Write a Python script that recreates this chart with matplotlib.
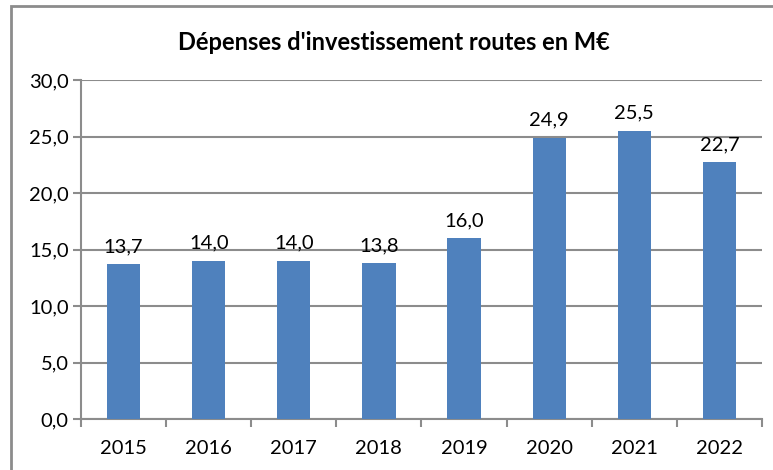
import matplotlib.pyplot as plt
import numpy as np
from matplotlib.patches import Rectangle

# Données
annees = ["2015", "2016", "2017", "2018", "2019", "2020", "2021", "2022"]
depenses = [13.7, 14.0, 14.0, 13.8, 16.0, 24.9, 25.5, 22.7]
yticks = [0, 5, 10, 15, 20, 25, 30]

plt.rcParams['font.family'] = ['Lato', 'DejaVu Sans']
gris = "#8c8c8c"
bleu = "#4f81bd"

fig = plt.figure(figsize=(7.73, 4.70), dpi=100)
ax = fig.add_axes([81 / 773, 51 / 470, 681 / 773, 339 / 470])

# Cadre du graphique
fig.patches.append(Rectangle((11 / 773, -0.05), 1.1, 0.05 + 464 / 470,
                             transform=fig.transFigure, fill=False,
                             edgecolor=gris, linewidth=2))

x = np.arange(len(annees))
ax.bar(x, depenses, width=0.39, color=bleu, zorder=3)

for xi, v in zip(x, depenses):
    ax.text(xi, v + 0.8, f"{v:.1f}".replace(".", ","), ha="center", va="bottom",
            fontsize=14.5)

ax.set_xlim(-0.5, len(annees) - 0.5)
ax.set_ylim(0, 30)
ax.set_yticks(yticks)
ax.set_yticklabels([f"{t:.1f}".replace(".", ",") for t in yticks], fontsize=14.5)
ax.set_xticks(x)
ax.set_xticklabels(annees, fontsize=14.5)
ax.set_xticks(np.arange(-0.5, len(annees)), minor=True)
ax.tick_params(axis="x", which="major", length=0, pad=15)
ax.tick_params(axis="x", which="minor", length=6, width=1.5, color=gris)
ax.tick_params(axis="y", length=6, width=1.5, color=gris, pad=3)

ax.yaxis.grid(True, color=gris, linewidth=1.5, zorder=0)
for s in ["top", "right"]:
    ax.spines[s].set_visible(False)
for s in ["left", "bottom"]:
    ax.spines[s].set_color(gris)
    ax.spines[s].set_linewidth(1.5)

fig.text(394 / 773, 1 - 42 / 470, "Dépenses d'investissement routes en M€",
         ha="center", va="center", fontsize=17, fontweight="bold")

plt.savefig("out.png", dpi=100)
